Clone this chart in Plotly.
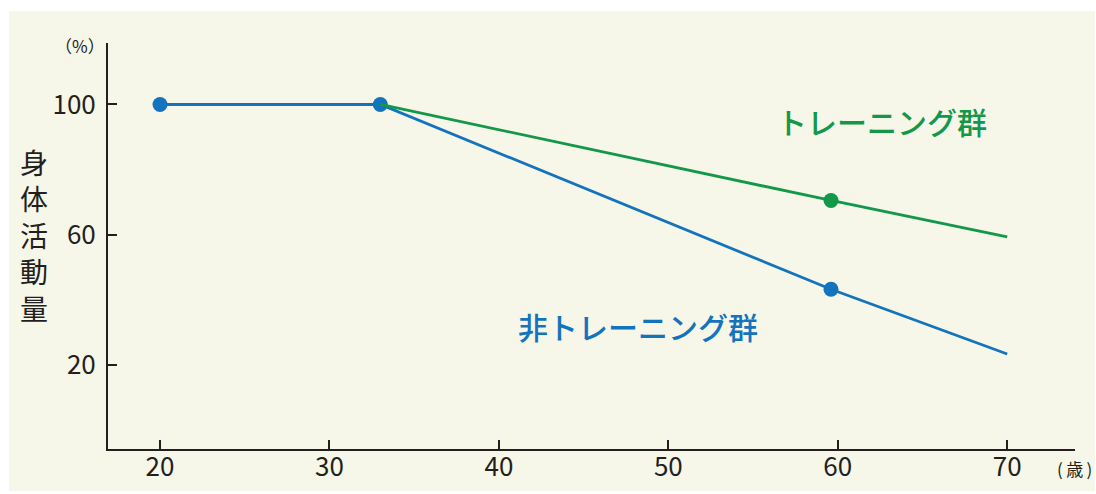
import plotly.graph_objects as go

# Age (years) and relative physical activity (%)
age_non_training = [20, 33, 59.6, 70]
activity_non_training = [100, 100, 43.2, 23.3]

age_training = [33, 59.6, 70]
activity_training = [100, 70.5, 59.3]

x_ticks = [20, 30, 40, 50, 60, 70]
y_ticks = [20, 60, 100]

BLUE = "#1473bd"
GREEN = "#13984a"
INK = "#231f20"
CREAM = "#f6f6e9"
FONT = "Noto Sans CJK JP"

fig = go.Figure()

# Non-training group: line through all points, dots on all but the final point
fig.add_trace(go.Scatter(
    x=age_non_training, y=activity_non_training, mode="lines",
    line=dict(color=BLUE, width=2.8), hoverinfo="skip", showlegend=False,
))
fig.add_trace(go.Scatter(
    x=age_non_training[:-1], y=activity_non_training[:-1], mode="markers",
    marker=dict(color=BLUE, size=15), showlegend=False,
))

# Training group branches off at age 33
fig.add_trace(go.Scatter(
    x=age_training, y=activity_training, mode="lines",
    line=dict(color=GREEN, width=2.8), hoverinfo="skip", showlegend=False,
))
fig.add_trace(go.Scatter(
    x=age_training[1:-1], y=activity_training[1:-1], mode="markers",
    marker=dict(color=GREEN, size=15), showlegend=False,
))

W, H = 1096, 494
ML, MR, MT, MB = 108, 21, 43, 45
pw, ph = W - ML - MR, H - MT - MB

def px_to_paper_x(px):
    return (px - ML) / pw

def px_to_paper_y(py):
    return (H - MB - py) / ph

def side_label(text, px, py, size):
    return dict(text=text, x=px_to_paper_x(px), y=px_to_paper_y(py),
                xref="paper", yref="paper", xanchor="center", yanchor="middle",
                showarrow=False, align="center",
                font=dict(family=FONT, size=size, color=INK))

annotations = [
    dict(text="トレーニング群", x=62.6, y=94.8, xref="x", yref="y",
         xanchor="center", yanchor="middle", showarrow=False,
         font=dict(family=FONT, size=30, color=GREEN, weight=500)),
    dict(text="非トレーニング群", x=48.2, y=31.9, xref="x", yref="y",
         xanchor="center", yanchor="middle", showarrow=False,
         font=dict(family=FONT, size=30, color=BLUE, weight=500)),
    side_label("身<br>体<br>活<br>動<br>量", 34, 235, 28),
    side_label("（%）", 80, 45, 17),
    side_label("(\u2009歳\u2009)", 1074, 468, 17),
]

fig.update_layout(
    width=W, height=H,
    margin=dict(l=ML, r=MR, t=MT, b=MB, autoexpand=False),
    paper_bgcolor="white",
    plot_bgcolor=CREAM,
    font=dict(family=FONT, color=INK),
    annotations=annotations,
    shapes=[dict(
        type="rect", xref="paper", yref="paper", layer="below",
        x0=px_to_paper_x(9), x1=px_to_paper_x(1095),
        y0=px_to_paper_y(491), y1=px_to_paper_y(11),
        fillcolor=CREAM, line=dict(width=0),
    )],
    xaxis=dict(
        range=[16.93, 74.0], tickvals=x_ticks, ticktext=[str(v) for v in x_ticks],
        showgrid=False, zeroline=False, showline=True, linecolor=INK, linewidth=2,
        ticks="inside", ticklen=9, tickwidth=1.5, tickcolor=INK, automargin=False,
        tickfont=dict(family=FONT, size=26, color=INK), ticklabelstandoff=-6,
    ),
    yaxis=dict(
        range=[-5.9, 118.9], tickvals=y_ticks, ticktext=[str(v) for v in y_ticks],
        showgrid=False, zeroline=False, showline=True, linecolor=INK, linewidth=2,
        ticks="inside", ticklen=9, tickwidth=1.5, tickcolor=INK, automargin=False,
        tickfont=dict(family=FONT, size=26, color=INK), ticklabelstandoff=5,
    ),
)

fig.write_html("out.html")
